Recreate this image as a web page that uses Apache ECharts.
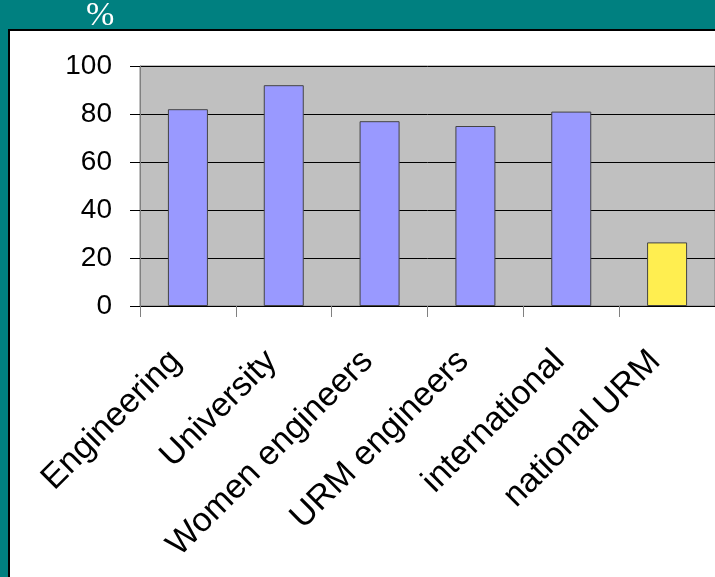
<!DOCTYPE html>
<html>
<head>
<meta charset="utf-8">
<script src="https://cdn.jsdelivr.net/npm/echarts@6/dist/echarts.min.js"></script>
<style>
  html, body { margin: 0; padding: 0; background: #008080; }
  #main { width: 715px; height: 577px; }
</style>
</head>
<body>
<div id="main"></div>
<script>
// 数据
const categories = ['Engineering', 'University', 'Women engineers', 'URM engineers', 'international', 'national URM']
const values = [82, 92, 77, 75, 81, 26.5]
const barColors = ['#9999ff', '#9999ff', '#9999ff', '#9999ff', '#9999ff', '#ffee50']
const yTicks = [0, 20, 40, 60, 80, 100]

let chart = echarts.init(document.getElementById('main'))

let option = {
  backgroundColor: '#008080',
  animation: false,
  graphic: [
    {
      // 白色面板
      type: 'rect',
      z: -100,
      shape: { x: 9, y: 30, width: 720, height: 560 },
      style: { fill: '#ffffff', stroke: '#000000', lineWidth: 2 }
    },
    {
      type: 'text',
      z: 100,
      left: 86,
      top: -1,
      style: {
        text: '%',
        fill: '#ffffff',
        font: '34px "Liberation Serif", "Times New Roman", serif'
      }
    }
  ],
  grid: {
    left: 140,
    top: 66,
    right: -3,
    bottom: 271,
    show: true,
    backgroundColor: '#c0c0c0',
    borderColor: '#808080',
    borderWidth: 1
  },
  xAxis: {
    type: 'category',
    data: categories,
    axisLine: { lineStyle: { color: '#000000', width: 1 } },
    axisTick: { show: true, length: 11, lineStyle: { color: '#808080' } },
    axisLabel: {
      rotate: 45,
      interval: 0,
      margin: 38,
      padding: [0, 17, 0, 0],
      color: '#000000',
      fontSize: 34,
      fontFamily: '"Liberation Sans", Arial, sans-serif'
    }
  },
  yAxis: {
    type: 'value',
    min: yTicks[0],
    max: yTicks[yTicks.length - 1],
    interval: 20,
    axisLine: { show: true, lineStyle: { color: '#808080' } },
    axisTick: { show: true, length: 10, lineStyle: { color: '#000000' } },
    splitLine: { show: true, lineStyle: { color: '#000000', width: 1 } },
    axisLabel: {
      margin: 28,
      color: '#000000',
      fontSize: 28,
      fontFamily: '"Liberation Sans", Arial, sans-serif'
    }
  },
  series: [
    {
      type: 'bar',
      barWidth: 40,
      data: values.map((v, i) => ({
        value: v,
        itemStyle: { color: barColors[i] }
      })),
      itemStyle: { borderColor: '#444444', borderWidth: 1 }
    }
  ]
}

chart.setOption(option)
</script>
</body>
</html>
